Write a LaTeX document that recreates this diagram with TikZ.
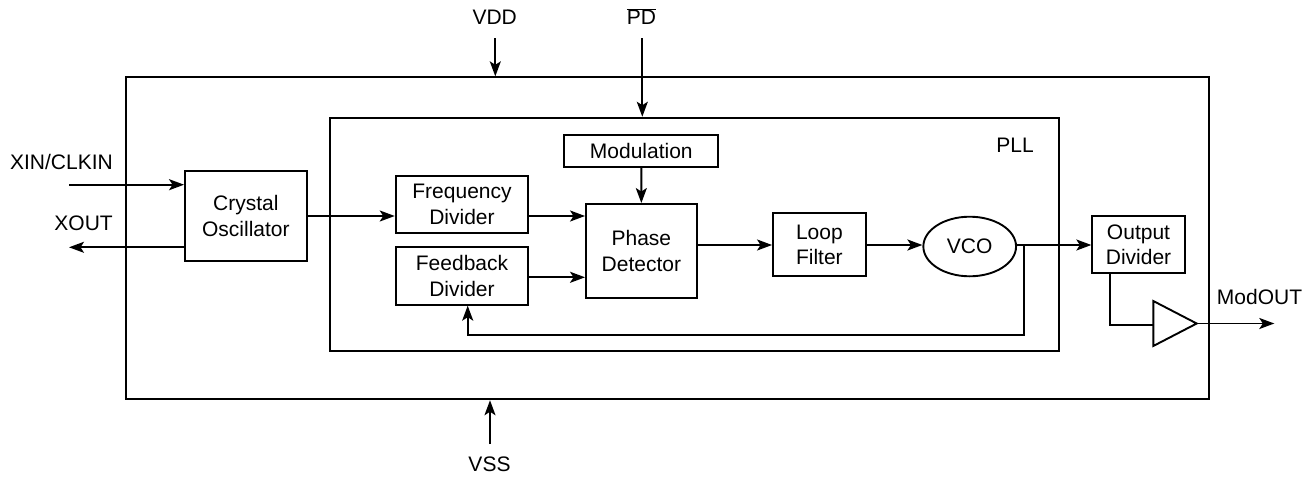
\documentclass[tikz,border=0pt]{standalone}
\usepackage{fontspec}
\setmainfont{Liberation Sans}
\usetikzlibrary{arrows.meta,shapes.geometric}
\begin{document}
\begin{tikzpicture}[x=1pt,y=-1pt,
  font=\fontsize{21}{25.5}\selectfont,
  blk/.style={draw,line width=1.9pt,inner sep=0pt,align=center},
  lbl/.style={inner sep=0pt},
  arr/.style={-{Stealth[length=15pt,width=11pt,inset=3.5pt]},line width=1.9pt},
  wire/.style={line width=1.9pt}]
\useasboundingbox (0,0) rectangle (1313,476);
% outer and PLL boxes
\node[blk,minimum width=1083pt,minimum height=322pt] (chip) at (667.5,238.3) {};
\node[blk,minimum width=728.7pt,minimum height=233pt] (pll) at (694.35,234.2) {};
\node[lbl,anchor=base] (plllbl) at (1015,152) {PLL};
% blocks
\node[blk,minimum width=121.7pt,minimum height=90pt] (xo) at (245.85,216) {Crystal\\Oscillator};
\node[blk,minimum width=132.6pt,minimum height=57pt] (fd) at (462,204.2) {Frequency\\Divider};
\node[blk,minimum width=132.6pt,minimum height=57.7pt] (fb) at (462,275.85) {Feedback\\Divider};
\node[blk,minimum width=154pt,minimum height=32pt] (mod) at (641.3,150.7) {Modulation};
\node[blk,minimum width=110.7pt,minimum height=94.3pt] (pd) at (641.35,251.15) {Phase\\Detector};
\node[blk,minimum width=92.7pt,minimum height=63pt] (lf) at (819.35,244.8) {Loop\\Filter};
\node[draw,ellipse,line width=1.9pt,inner sep=0pt,minimum width=92.7pt,minimum height=59.6pt] (vco) at (969.7,246.5) {VCO};
\node[blk,minimum width=92.4pt,minimum height=57pt] (od) at (1138.5,244.8) {Output\\Divider};
% buffer triangle
\coordinate (bt) at (1153.3,301);
\coordinate (bb) at (1153.3,346);
\coordinate (bo) at (1196.7,323.5);
\draw[line width=1.9pt,line join=miter] (bt) -- (bo) -- (bb) -- cycle;
% external labels
\node[lbl,anchor=base east] (xin) at (113,169) {XIN/CLKIN};
\node[lbl,anchor=base east] (xout) at (113,230) {XOUT};
\node[lbl,anchor=base] (vdd) at (494.7,25) {VDD};
\node[lbl,anchor=base] (pdn) at (641.5,25) {$\overline{\mbox{PD}}$};
\node[lbl,anchor=base] (vss) at (489.5,471.5) {VSS};
\node[lbl,anchor=base west] (modout) at (1216.7,304) {ModOUT};
% pin endpoints
\coordinate (xinS) at (69,184.7);
\coordinate (xoutE) at (69,247.3);
\coordinate (vddS) at (495.3,38.3);
\coordinate (pdS) at (642.3,38.3);
\coordinate (vssS) at (490,444);
\coordinate (modE) at (1274.3,323.5);
% connectors
\draw[arr] (xinS) -- (xinS -| xo.west);
\draw[arr] (xoutE -| xo.west) -- (xoutE);
\draw[arr] (vddS) -- (vddS |- chip.north);
\draw[arr] (pdS) -- (pdS |- pll.north);
\draw[arr] (vssS) -- (vssS |- chip.south);
\draw[arr] (xo.east |- 0,216) -- (fd.west |- 0,216);
\draw[arr] (fd.east |- 0,216) -- (pd.west |- 0,216);
\draw[arr] (fb.east |- 0,277.3) -- (pd.west |- 0,277.3);
\draw[arr] (mod.south) -- (pd.north);
\draw[arr] (pd.east |- 0,245) -- (lf.west |- 0,245);
\draw[arr] (lf.east |- 0,245) -- (vco.west |- 0,245);
\draw[arr] (vco.east |- 0,245) -- (od.west |- 0,245);
\coordinate (fbr) at (1024.3,245);
\draw[arr] (fbr) -- (1024.3,335.3) -- (467.7,335.3) -- (467.7,335.3 |- fb.south);
\draw[wire] (1110,0 |- od.south) -- (1110,324.7) -- (1153.3,324.7);
\draw[arr] (bo) -- (modE);
\end{tikzpicture}
\end{document}
